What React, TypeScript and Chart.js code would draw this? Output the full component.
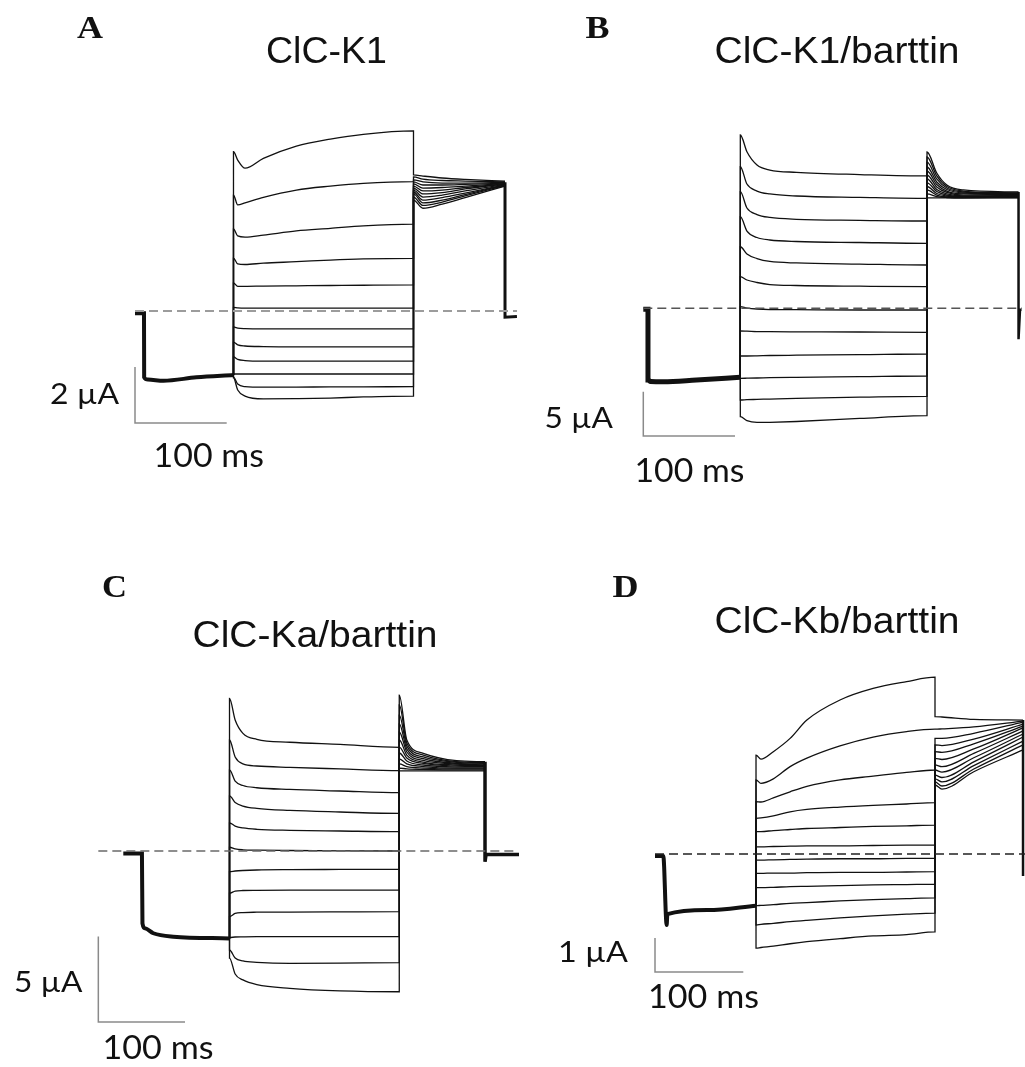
import React, { useEffect, useRef } from "react";
import { Chart, registerables } from "chart.js";

Chart.register(...registerables);

// ================= Text =================
const panelLetters = ["A", "B", "C", "D"];
const panelTitles = ["ClC-K1", "ClC-K1/barttin", "ClC-Ka/barttin", "ClC-Kb/barttin"];
const currentBarLabels = ["2 µA", "5 µA", "5 µA", "1 µA"];
const timeBarLabels = ["100 ms", "100 ms", "100 ms", "100 ms"];

// ================= Panel A: ClC-K1 (time ms, current µA) =================
const aCommonT = [0, 9.8, 10, 14, 31, 67, 107.4];
const aCommonI = [-0.08, -0.08, -2.37, -2.45, -2.49, -2.37, -2.29];
const aTestT = [107.4, 112, 120, 140, 176, 213, 249, 303.7];
const aTest = [
  [5.69, 5.39, 5.1, 5.45, 5.89, 6.14, 6.31, 6.43],
  [4.14, 3.79, 3.86, 4.06, 4.32, 4.46, 4.56, 4.62],
  [2.93, 2.68, 2.64, 2.71, 2.86, 2.95, 3.04, 3.1],
  [1.89, 1.68, 1.66, 1.71, 1.76, 1.82, 1.86, 1.88],
  [1.0, 0.88, 0.88, 0.89, 0.9, 0.91, 0.92, 0.93],
  [0.13, 0.11, 0.1, 0.1, 0.1, 0.1, 0.1, 0.1],
  [-0.57, -0.61, -0.63, -0.64, -0.64, -0.64, -0.64, -0.64],
  [-1.11, -1.21, -1.25, -1.27, -1.28, -1.28, -1.28, -1.28],
  [-1.64, -1.73, -1.77, -1.79, -1.79, -1.79, -1.79, -1.79],
  [-2.25, -2.25, -2.25, -2.25, -2.25, -2.25, -2.25, -2.25],
  [-2.36, -2.61, -2.7, -2.72, -2.72, -2.71, -2.71, -2.7],
  [-2.39, -2.82, -3.04, -3.14, -3.13, -3.11, -3.07, -3.04],
];
const aTailT = [303.7, 314, 335, 360, 403.5];
const aTail = [
  [4.86, 4.82, 4.75, 4.7, 4.64],
  [4.79, 4.71, 4.66, 4.64, 4.61],
  [4.68, 4.61, 4.57, 4.57, 4.59],
  [4.61, 4.5, 4.5, 4.52, 4.57],
  [4.54, 4.39, 4.41, 4.46, 4.55],
  [4.46, 4.29, 4.32, 4.41, 4.54],
  [4.39, 4.18, 4.23, 4.36, 4.54],
  [4.32, 4.07, 4.14, 4.29, 4.52],
  [4.25, 3.96, 4.05, 4.21, 4.5],
  [4.18, 3.86, 3.96, 4.16, 4.5],
  [4.07, 3.77, 3.89, 4.11, 4.48],
  [3.96, 3.67, 3.82, 4.05, 4.46],
];
const aAfterT = [403.5, 403.5, 416.5];
const aAfterI = [4.6, -0.22, -0.2];
const aZeroT = [0, 416.6];
const aBarT = [0, 0, 100];
const aBarI = [-2, -4, -4];

// ================= Panel B: ClC-K1/barttin =================
const bCommonT = [0, 5.1, 5.1, 8, 22, 58, 105.8];
const bCommonI = [-0.11, -0.11, -8.08, -8.25, -8.28, -8.08, -7.78];
const bTestT = [105.8, 113, 124, 138, 167, 236, 309.4];
const bTest = [
  [19.54, 17.65, 16.16, 15.59, 15.33, 15.08, 14.92],
  [15.96, 14.01, 13.22, 12.89, 12.66, 12.51, 12.4],
  [13.15, 11.31, 10.57, 10.24, 10.03, 9.92, 9.84],
  [10.33, 8.71, 7.98, 7.7, 7.53, 7.42, 7.33],
  [6.94, 6.12, 5.61, 5.28, 5.11, 4.99, 4.88],
  [3.56, 3.19, 2.91, 2.68, 2.57, 2.49, 2.44],
  [0.18, 0.03, -0.08, -0.14, -0.16, -0.19, -0.19],
  [-2.56, -2.58, -2.62, -2.64, -2.65, -2.67, -2.71],
  [-5.38, -5.38, -5.36, -5.32, -5.29, -5.23, -5.15],
  [-7.89, -7.88, -7.86, -7.82, -7.78, -7.71, -7.63],
  [-10.34, -10.3, -10.27, -10.23, -10.15, -10.02, -9.94],
  [-12.22, -12.67, -12.87, -12.85, -12.76, -12.42, -12.09],
];
const bTailT = [309.4, 320, 331, 349, 409.2];
const bTail = [
  [17.62, 15.25, 13.9, 13.34, 13.11],
  [17.06, 14.92, 13.73, 13.22, 13.0],
  [16.49, 14.58, 13.56, 13.11, 12.94],
  [15.93, 14.24, 13.39, 13.0, 12.89],
  [15.48, 13.96, 13.22, 12.89, 12.83],
  [15.03, 13.68, 13.06, 12.77, 12.77],
  [14.58, 13.39, 12.89, 12.66, 12.72],
  [14.13, 13.17, 12.77, 12.6, 12.66],
  [13.73, 12.94, 12.66, 12.55, 12.6],
  [13.34, 12.77, 12.55, 12.49, 12.55],
  [12.89, 12.6, 12.49, 12.44, 12.49],
  [12.44, 12.44, 12.44, 12.44, 12.44],
];
const bAfterT = [409.2, 409.2, 410.8, 412.5];
const bAfterI = [13.1, -3.49, -0.15, -0.15];
const bZeroT = [0, 413];
const bBarT = [0, 0, 100];
const bBarI = [-9.4, -14.4, -14.4];

// ================= Panel C: ClC-Ka/barttin =================
const cCommonT = [0, 21.5, 22.1, 25, 34.6, 57.7, 122.5];
const cCommonI = [-0.15, -0.15, -4.23, -4.52, -4.81, -5.01, -5.11];
const cTestT = [122.5, 129, 138, 154, 192, 250, 318.3];
const cTest = [
  [8.93, 7.66, 6.88, 6.53, 6.36, 6.23, 6.06],
  [6.49, 5.5, 5.09, 4.97, 4.89, 4.8, 4.7],
  [4.74, 4.09, 3.83, 3.7, 3.6, 3.51, 3.41],
  [3.22, 2.84, 2.63, 2.49, 2.37, 2.28, 2.2],
  [1.65, 1.46, 1.35, 1.27, 1.21, 1.17, 1.13],
  [0.22, 0.12, 0.07, 0.05, 0.03, 0.01, 0.0],
  [-1.21, -1.17, -1.14, -1.11, -1.09, -1.08, -1.07],
  [-2.47, -2.34, -2.31, -2.3, -2.29, -2.29, -2.28],
  [-3.84, -3.65, -3.6, -3.58, -3.57, -3.56, -3.55],
  [-5.06, -5.03, -5.02, -5.01, -5.01, -5.01, -5.01],
  [-5.79, -6.26, -6.43, -6.51, -6.57, -6.56, -6.53],
  [-6.26, -7.19, -7.54, -7.81, -8.03, -8.18, -8.23],
];
const cTailT = [318.3, 327, 346, 384.5, 417.2];
const cTail = [
  [9.12, 6.49, 5.71, 5.28, 5.22],
  [8.54, 6.32, 5.61, 5.23, 5.18],
  [7.95, 6.14, 5.5, 5.18, 5.13],
  [7.43, 5.96, 5.4, 5.13, 5.09],
  [6.96, 5.79, 5.3, 5.08, 5.04],
  [6.49, 5.61, 5.2, 5.03, 5.0],
  [6.08, 5.44, 5.12, 4.97, 4.95],
  [5.73, 5.26, 5.03, 4.91, 4.9],
  [5.38, 5.09, 4.94, 4.85, 4.85],
  [5.09, 4.94, 4.85, 4.8, 4.8],
  [4.85, 4.8, 4.77, 4.74, 4.74],
  [4.68, 4.68, 4.68, 4.68, 4.68],
];
const cAfterT = [417.2, 417.2, 418.4, 456.4];
const cAfterI = [5.22, -0.63, -0.2, -0.2];
const cZeroT = [-28.8, 455.2];
const cBarT = [-28.8, -28.8, 71.2];
const cBarI = [-5, -10, -10];

// ================= Panel D: ClC-Kb/barttin =================
const dCommonT = [0, 9.4, 13.2, 14, 60, 114.4];
const dCommonI = [-0.06, -0.06, -2.09, -1.77, -1.65, -1.52];
const dTestT = [114.4, 120, 134, 153, 172, 209.5, 247, 285, 317.1];
const dTest = [
  [2.91, 2.79, 3.01, 3.4, 3.94, 4.53, 4.87, 5.07, 5.2],
  [2.18, 2.08, 2.21, 2.57, 2.82, 3.18, 3.44, 3.6, 3.67],
  [1.54, 1.53, 1.65, 1.83, 1.99, 2.18, 2.29, 2.4, 2.47],
  [1.05, 1.06, 1.12, 1.24, 1.31, 1.38, 1.43, 1.47, 1.51],
  [0.66, 0.66, 0.69, 0.72, 0.75, 0.78, 0.81, 0.83, 0.85],
  [0.21, 0.21, 0.22, 0.23, 0.24, 0.24, 0.25, 0.26, 0.26],
  [-0.18, -0.18, -0.17, -0.16, -0.15, -0.14, -0.14, -0.13, -0.13],
  [-0.57, -0.57, -0.56, -0.56, -0.55, -0.54, -0.54, -0.53, -0.52],
  [-0.99, -0.99, -0.98, -0.96, -0.95, -0.93, -0.91, -0.9, -0.89],
  [-1.52, -1.51, -1.49, -1.45, -1.43, -1.38, -1.34, -1.31, -1.29],
  [-2.09, -2.07, -2.04, -1.99, -1.95, -1.88, -1.82, -1.77, -1.74],
  [-2.77, -2.75, -2.71, -2.64, -2.58, -2.49, -2.41, -2.37, -2.29],
];
const dTailT = [317.1, 325, 361, 416.8];
const dTail = [
  [4.04, 4.03, 3.96, 3.94],
  [3.67, 3.68, 3.74, 3.91],
  [3.4, 3.4, 3.55, 3.88],
  [3.21, 3.19, 3.38, 3.82],
  [3.01, 2.99, 3.24, 3.76],
  [2.81, 2.78, 3.09, 3.71],
  [2.62, 2.57, 2.96, 3.62],
  [2.47, 2.41, 2.83, 3.53],
  [2.32, 2.25, 2.71, 3.44],
  [2.21, 2.12, 2.6, 3.32],
  [2.12, 2.0, 2.5, 3.21],
  [2.03, 1.91, 2.42, 3.06],
];
const dAfterT = [416.8, 416.8];
const dAfterI = [3.94, -0.65];
const dZeroT = [0, 419];
const dBarT = [0, 0, 100];
const dBarI = [-2.47, -3.47, -3.47];

// ================= Layout (pixels) =================
type Geom = { left: number; top: number; width: number; height: number; x0: number; y0: number; pxPerMs: number; pxPerUA: number };
type Sty = { dash: string; dashWidth: number; commonWidth: number; afterWidth: number };
type PanelData = {
  commonT: number[]; commonI: number[]; testT: number[]; test: number[][];
  tailT: number[]; tail: number[][]; afterT: number[]; afterI: number[];
  zeroT: number[]; barT: number[]; barI: number[]; geom: Geom; style: Sty;
};

const panels: PanelData[] = [
  {
    commonT: aCommonT, commonI: aCommonI, testT: aTestT, test: aTest, tailT: aTailT, tail: aTail,
    afterT: aAfterT, afterI: aAfterI, zeroT: aZeroT, barT: aBarT, barI: aBarI,
    geom: { left: 10, top: 100, width: 512, height: 340, x0: 135, y0: 311, pxPerMs: 0.917, pxPerUA: 28 },
    style: { dash: "#9c9c9c", dashWidth: 2, commonWidth: 4, afterWidth: 3 },
  },
  {
    commonT: bCommonT, commonI: bCommonI, testT: bTestT, test: bTest, tailT: bTailT, tail: bTail,
    afterT: bAfterT, afterI: bAfterI, zeroT: bZeroT, barT: bBarT, barI: bBarI,
    geom: { left: 525, top: 100, width: 500, height: 350, x0: 643.3, y0: 308.3, pxPerMs: 0.917, pxPerUA: 8.87 },
    style: { dash: "#555555", dashWidth: 1.4, commonWidth: 5, afterWidth: 2.5 },
  },
  {
    commonT: cCommonT, commonI: cCommonI, testT: cTestT, test: cTest, tailT: cTailT, tail: cTail,
    afterT: cAfterT, afterI: cAfterI, zeroT: cZeroT, barT: cBarT, barI: cBarI,
    geom: { left: 10, top: 660, width: 512, height: 380, x0: 123.3, y0: 851, pxPerMs: 0.867, pxPerUA: 17.1 },
    style: { dash: "#6a6a6a", dashWidth: 1.6, commonWidth: 4, afterWidth: 3.5 },
  },
  {
    commonT: dCommonT, commonI: dCommonI, testT: dTestT, test: dTest, tailT: dTailT, tail: dTail,
    afterT: dAfterT, afterI: dAfterI, zeroT: dZeroT, barT: dBarT, barI: dBarI,
    geom: { left: 525, top: 640, width: 500, height: 360, x0: 655, y0: 854, pxPerMs: 0.883, pxPerUA: 34 },
    style: { dash: "#222222", dashWidth: 1.4, commonWidth: 4, afterWidth: 2.5 },
  },
];

const textLayout = [
  { letter: [77, 37.5, 26], title: [266, 62.5, 121], iLab: [50, 404, 69], tLab: [153.5, 466.5, 110.5] },
  { letter: [585.5, 37.5, 24], title: [714.5, 62.5, 245], iLab: [544.5, 427.5, 68.5], tLab: [634.5, 481.5, 110] },
  { letter: [102, 597, 25], title: [192.5, 646.5, 245], iLab: [14, 992, 68.5], tLab: [102.5, 1059, 111] },
  { letter: [612.5, 597, 26], title: [714.5, 633, 245], iLab: [558, 961.5, 70], tLab: [648, 1008, 111] },
];

const pts = (ts: number[], is: number[]) => ts.map((t, k) => ({ x: t, y: is[k] }));

function traceData(p: PanelData, i: number) {
  const out = [{ x: p.testT[0], y: p.commonI[p.commonI.length - 1] }];
  p.testT.forEach((t, k) => out.push({ x: t, y: p.test[i][k] }));
  p.tailT.forEach((t, k) => out.push({ x: t, y: p.tail[i][k] }));
  return out;
}

function PanelChart({ p }: { p: PanelData }) {
  const ref = useRef<HTMLCanvasElement>(null);
  const g = p.geom;
  useEffect(() => {
    if (!ref.current) return;
    const xMin = (g.left - g.x0) / g.pxPerMs;
    const xMax = xMin + g.width / g.pxPerMs;
    const yMax = (g.y0 - g.top) / g.pxPerUA;
    const yMin = yMax - g.height / g.pxPerUA;
    const base = { pointRadius: 0, pointHoverRadius: 0, fill: false, clip: false as any, spanGaps: true };
    const st = p.style;
    const datasets: any[] = [
      {
        ...base, data: pts(p.zeroT, p.zeroT.map(() => 0)), borderColor: st.dash,
        borderWidth: st.dashWidth, borderDash: [9, 5], tension: 0,
      },
      { ...base, data: pts(p.barT, p.barI), borderColor: "#8a8a8a", borderWidth: 1.5, tension: 0 },
      {
        ...base, data: pts(p.commonT, p.commonI), borderColor: "#111111",
        borderWidth: st.commonWidth, cubicInterpolationMode: "monotone",
      },
      ...p.test.map((_, i) => ({
        ...base, data: traceData(p, i), borderColor: "#111111", borderWidth: 1.3,
        cubicInterpolationMode: "monotone",
      })),
      { ...base, data: pts(p.afterT, p.afterI), borderColor: "#111111", borderWidth: st.afterWidth, tension: 0 },
    ];
    const chart = new Chart(ref.current, {
      type: "line",
      data: { datasets },
      options: {
        responsive: false,
        maintainAspectRatio: false,
        animation: false,
        devicePixelRatio: 1,
        events: [],
        layout: { padding: 0 },
        plugins: { legend: { display: false }, tooltip: { enabled: false }, title: { display: false } },
        scales: {
          x: { type: "linear", display: false, min: xMin, max: xMax },
          y: { type: "linear", display: false, min: yMin, max: yMax },
        },
      } as any,
    });
    return () => chart.destroy();
  }, []);
  return (
    <canvas
      ref={ref}
      width={g.width}
      height={g.height}
      style={{ position: "absolute", left: g.left, top: g.top, width: g.width, height: g.height }}
    />
  );
}

export default function App() {
  return (
    <div style={{ position: "absolute", left: 0, top: 0, width: 1025, height: 1067, background: "#ffffff", overflow: "hidden" }}>
      {panels.map((p, i) => (
        <PanelChart key={i} p={p} />
      ))}
      <svg width={1025} height={1067} style={{ position: "absolute", left: 0, top: 0, pointerEvents: "none" }}>
        {textLayout.map((L, i) => (
          <g key={i} fill="#111111">
            <text x={L.letter[0]} y={L.letter[1]} fontFamily="'Liberation Serif', 'Times New Roman', serif" fontWeight="bold" fontSize={32} textLength={L.letter[2]} lengthAdjust="spacingAndGlyphs">
              {panelLetters[i]}
            </text>
            <text x={L.title[0]} y={L.title[1]} fontFamily="'Liberation Sans', Arial, sans-serif" fontSize={37} textLength={L.title[2]} lengthAdjust="spacingAndGlyphs">
              {panelTitles[i]}
            </text>
            <text x={L.iLab[0]} y={L.iLab[1]} fontFamily="Lato, 'Open Sans', sans-serif" fontSize={29} textLength={L.iLab[2]} lengthAdjust="spacingAndGlyphs">
              {currentBarLabels[i]}
            </text>
            <text x={L.tLab[0]} y={L.tLab[1]} fontFamily="Lato, 'Open Sans', sans-serif" fontSize={32} textLength={L.tLab[2]} lengthAdjust="spacingAndGlyphs">
              {timeBarLabels[i]}
            </text>
          </g>
        ))}
      </svg>
    </div>
  );
}
